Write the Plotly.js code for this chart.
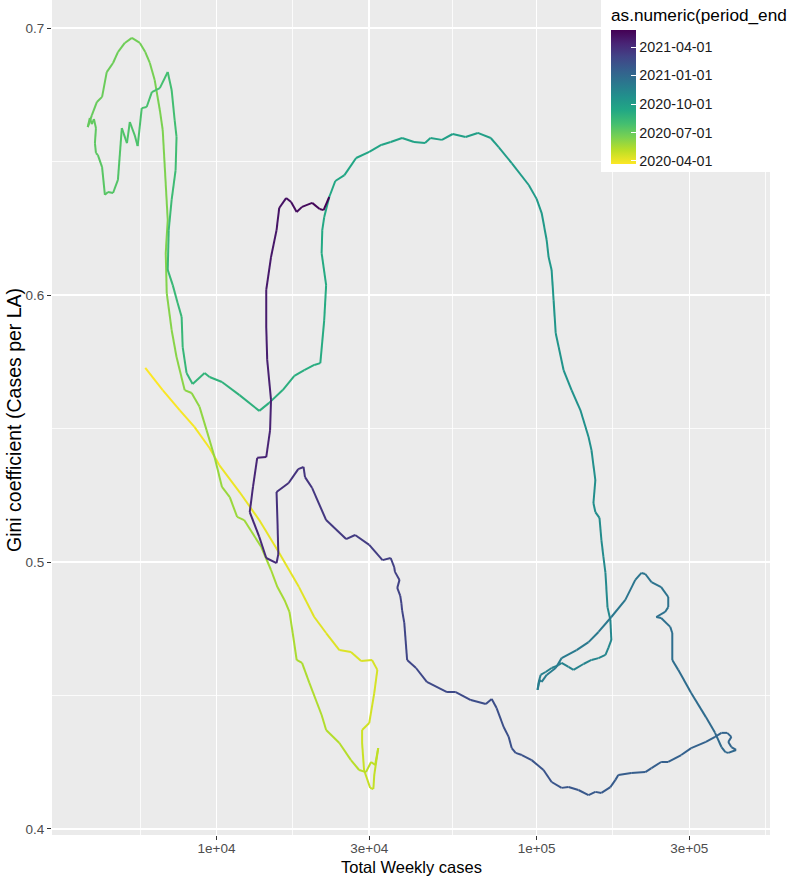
<!DOCTYPE html>
<html><head><meta charset="utf-8">
<script src="https://cdn.plot.ly/plotly-3.0.1.min.js"></script>
<style>html,body{margin:0;padding:0;background:#fff;}#chart{width:788px;height:881px;}</style>
</head><body><div id="chart"></div>
<script>
const periodEnd = ['2020-03-22','2020-03-24','2020-03-26','2020-03-28','2020-03-30','2020-04-01','2020-04-03','2020-04-05','2020-04-07','2020-04-09',
'2020-04-11','2020-04-12','2020-04-13','2020-04-14','2020-04-15','2020-04-16','2020-04-17','2020-04-19','2020-04-21','2020-04-23',
'2020-04-25','2020-04-27','2020-04-29','2020-04-30','2020-05-01','2020-05-02','2020-05-03','2020-05-04','2020-05-05','2020-05-07',
'2020-05-08','2020-05-10','2020-05-11','2020-05-12','2020-05-14','2020-05-15','2020-05-16','2020-05-17','2020-05-18','2020-05-19',
'2020-05-20','2020-05-21','2020-05-23','2020-05-25','2020-05-26','2020-05-27','2020-05-28','2020-05-30','2020-06-01','2020-06-03',
'2020-06-04','2020-06-05','2020-06-07','2020-06-08','2020-06-10','2020-06-12','2020-06-13','2020-06-16','2020-06-17','2020-06-19',
'2020-06-20','2020-06-21','2020-06-22','2020-06-24','2020-06-25','2020-06-26','2020-06-27','2020-06-28','2020-06-30','2020-07-01',
'2020-07-02','2020-07-03','2020-07-04','2020-07-05','2020-07-06','2020-07-07','2020-07-09','2020-07-10','2020-07-11','2020-07-12',
'2020-07-14','2020-07-15','2020-07-16','2020-07-17','2020-07-19','2020-07-20','2020-07-21','2020-07-22','2020-07-23','2020-07-25',
'2020-07-26','2020-07-27','2020-07-28','2020-07-30','2020-07-31','2020-08-02','2020-08-03','2020-08-05','2020-08-07','2020-08-08',
'2020-08-10','2020-08-11','2020-08-12','2020-08-13','2020-08-15','2020-08-17','2020-08-18','2020-08-20','2020-08-21','2020-08-23',
'2020-08-25','2020-08-27','2020-08-28','2020-08-30','2020-08-31','2020-09-01','2020-09-02','2020-09-03','2020-09-05','2020-09-06',
'2020-09-08','2020-09-09','2020-09-10','2020-09-12','2020-09-13','2020-09-14','2020-09-16','2020-09-17','2020-09-18','2020-09-19',
'2020-09-20','2020-09-21','2020-09-22','2020-09-23','2020-09-24','2020-09-25','2020-09-26','2020-09-27','2020-09-29','2020-09-30',
'2020-10-02','2020-10-04','2020-10-06','2020-10-07','2020-10-09','2020-10-10','2020-10-11','2020-10-13','2020-10-15','2020-10-16',
'2020-10-18','2020-10-20','2020-10-22','2020-10-24','2020-10-25','2020-10-27','2020-10-29','2020-10-30','2020-10-31','2020-11-02',
'2020-11-04','2020-11-05','2020-11-07','2020-11-08','2020-11-10','2020-11-11','2020-11-12','2020-11-13','2020-11-14','2020-11-15',
'2020-11-17','2020-11-18','2020-11-19','2020-11-20','2020-11-21','2020-11-22','2020-11-23','2020-11-25','2020-11-26','2020-11-27',
'2020-11-28','2020-11-29','2020-11-30','2020-12-01','2020-12-03','2020-12-04','2020-12-05','2020-12-07','2020-12-08','2020-12-10',
'2020-12-11','2020-12-12','2020-12-13','2020-12-14','2020-12-15','2020-12-16','2020-12-17','2020-12-18','2020-12-19','2020-12-20',
'2020-12-21','2020-12-23','2020-12-24','2020-12-26','2020-12-28','2020-12-30','2020-12-31','2021-01-01','2021-01-02','2021-01-04',
'2021-01-05','2021-01-06','2021-01-07','2021-01-08','2021-01-09','2021-01-10','2021-01-11','2021-01-13','2021-01-14','2021-01-16',
'2021-01-17','2021-01-18','2021-01-19','2021-01-21','2021-01-22','2021-01-23','2021-01-24','2021-01-26','2021-01-27','2021-01-28',
'2021-01-30','2021-01-31','2021-02-01','2021-02-03','2021-02-04','2021-02-06','2021-02-07','2021-02-08','2021-02-09','2021-02-10',
'2021-02-11','2021-02-13','2021-02-14','2021-02-15','2021-02-17','2021-02-19','2021-02-20','2021-02-22','2021-02-24','2021-02-26',
'2021-02-28','2021-03-01','2021-03-02','2021-03-03','2021-03-04','2021-03-05','2021-03-06','2021-03-07','2021-03-08','2021-03-10',
'2021-03-12','2021-03-14','2021-03-15','2021-03-18','2021-03-21','2021-03-22','2021-03-23','2021-03-24','2021-03-26','2021-03-28',
'2021-03-30','2021-04-01','2021-04-02','2021-04-04','2021-04-06','2021-04-08','2021-04-10','2021-04-12','2021-04-13','2021-04-15',
'2021-04-17','2021-04-20','2021-04-23','2021-04-26','2021-04-29','2021-05-02','2021-05-05','2021-05-08','2021-05-10','2021-05-13',
'2021-05-15','2021-05-18','2021-05-21','2021-05-24','2021-05-27'];

const totalWeeklyCases = [5990,6790,7670,8530,9510,10200,11800,13600,15700,18100,
20200,22000,24200,26300,28300,30600,31800,31100,30000,28500,
28500,28900,30200,30900,31100,32000,31300,30400,29300,27900,
26300,24200,22000,21300,19500,18500,17800,17300,16900,16300,
15500,14800,13800,12200,11600,11000,10400,9860,9310,8850,
8360,7950,7500,7240,6990,6940,7040,6790,6650,6410,
6190,5990,5760,5440,5170,4920,4750,4540,4390,4230,
4080,3960,4020,4080,4140,4200,4170,4200,4260,4390,
4480,4580,4750,4920,5060,5250,5360,5550,5670,5840,
6050,6280,6650,7040,7240,7400,7500,7450,7240,7090,
7040,7300,7560,7780,7840,8060,8420,9180,9510,10400,
11800,13600,14600,16100,17500,18800,20200,21100,21700,22000,
21300,21400,21700,22500,23500,25100,27300,30000,32700,35000,
38000,41400,44800,46600,50600,54700,60000,65500,71900,76100,
83600,94500,100000,103700,107500,109000,111400,113000,114700,117200,
121400,128600,137000,145300,148400,152600,150500,152600,157200,159400,
161700,164100,166500,170000,171200,167600,164100,156100,148400,140100,
130400,125800,119700,117200,111400,106700,102900,101400,100700,102200,
103700,107500,114700,119700,133300,145300,156100,171200,189300,203400,
212600,218600,228500,245000,257800,257800,252000,236500,245000,261500,
265400,265400,277000,304000,338000,361000,378000,389000,397000,420000,
406000,397000,406000,394000,378000,361000,338000,304000,283000,257800,
245000,228500,218600,197600,180000,176300,170000,159400,152600,145300,
135100,125800,119700,111400,105100,96500,89900,86000,83600,81800,
78900,75000,72400,69400,62300,55900,52500,45400,42000,39400,
38600,38000,37800,37500,36700,37300,36100,35900,35000,33000,
30000,27100,25400,22000,19900,18900,18700,18000,16800,15400,
15500,15600,15400,14300,13600,12700,13000,13400,14300,14700,
14800,14400,14300,14300,14800,15400,15700,16500,17100,17800,
18500,19900,21000,21600,22500];

const giniCoefficient = [0.5727,0.5644,0.5569,0.5506,0.5427,0.5363,0.5262,0.5157,0.5034,0.4906,
0.4794,0.4734,0.4670,0.4663,0.4629,0.4633,0.4596,0.4509,0.4397,0.4371,
0.4322,0.4221,0.4154,0.4150,0.4202,0.4303,0.4240,0.4251,0.4213,0.4221,
0.4258,0.4322,0.4371,0.4427,0.4547,0.4622,0.4633,0.4734,0.4813,0.4858,
0.4906,0.4970,0.5056,0.5157,0.5169,0.5243,0.5281,0.5393,0.5494,0.5581,
0.5633,0.5644,0.5768,0.5869,0.6007,0.6157,0.6281,0.6618,0.6693,0.6805,
0.6869,0.6910,0.6944,0.6963,0.6944,0.6910,0.6869,0.6835,0.6742,0.6723,
0.6674,0.6629,0.6663,0.6640,0.6659,0.6625,0.6569,0.6532,0.6524,0.6479,
0.6375,0.6386,0.6382,0.6431,0.6625,0.6569,0.6648,0.6599,0.6558,0.6700,
0.6704,0.6760,0.6775,0.6835,0.6768,0.6655,0.6592,0.6468,0.6356,0.6243,
0.6094,0.6037,0.5970,0.5918,0.5805,0.5708,0.5667,0.5708,0.5693,0.5674,
0.5625,0.5566,0.5596,0.5644,0.5697,0.5719,0.5738,0.5745,0.5906,0.6037,
0.6157,0.6243,0.6292,0.6367,0.6427,0.6449,0.6513,0.6536,0.6562,0.6573,
0.6588,0.6573,0.6569,0.6588,0.6581,0.6603,0.6592,0.6607,0.6588,0.6554,
0.6494,0.6412,0.6360,0.6307,0.6206,0.6142,0.6094,0.5981,0.5858,0.5805,
0.5719,0.5644,0.5569,0.5468,0.5419,0.5307,0.5221,0.5187,0.5165,0.5082,
0.5019,0.4959,0.4831,0.4783,0.4708,0.4678,0.4652,0.4640,0.4633,0.4618,
0.4596,0.4607,0.4622,0.4614,0.4603,0.4588,0.4577,0.4547,0.4521,0.4558,
0.4551,0.4577,0.4603,0.4640,0.4670,0.4700,0.4738,0.4794,0.4858,0.4933,
0.4959,0.4955,0.4925,0.4906,0.4869,0.4831,0.4813,0.4794,0.4790,0.4757,
0.4734,0.4633,0.4596,0.4509,0.4419,0.4360,0.4307,0.4288,0.4285,0.4296,
0.4307,0.4326,0.4345,0.4360,0.4360,0.4345,0.4326,0.4303,0.4277,0.4251,
0.4251,0.4228,0.4213,0.4210,0.4202,0.4184,0.4157,0.4135,0.4139,0.4127,
0.4146,0.4157,0.4154,0.4176,0.4221,0.4258,0.4277,0.4285,0.4303,0.4345,
0.4382,0.4453,0.4487,0.4468,0.4483,0.4513,0.4513,0.4551,0.4603,0.4633,
0.4772,0.4820,0.4846,0.4873,0.4903,0.4933,0.4963,0.4981,0.5015,0.5007,
0.5064,0.5101,0.5086,0.5157,0.5277,0.5318,0.5356,0.5348,0.5296,0.5262,
0.5157,0.5030,0.4996,0.5015,0.5094,0.5187,0.5281,0.5390,0.5393,0.5494,
0.5607,0.5757,0.5880,0.6019,0.6142,0.6243,0.6326,0.6363,0.6348,0.6311,
0.6330,0.6345,0.6322,0.6318,0.6367];

const xTickVals = [1e4, 3e4, 1e5, 3e5];
const xTickText = ['1e+04', '3e+04', '1e+05', '3e+05'];
const xMinorVals = [5774, 17321, 54772, 173205, 519600];
const yTickVals = [0.4, 0.5, 0.6, 0.7];
const yTickText = ['0.4', '0.5', '0.6', '0.7'];
const yMinorVals = [0.45, 0.55, 0.65];
const legendDates = ['2020-04-01', '2020-07-01', '2020-10-01', '2021-01-01', '2021-04-01'];
const legendTitle = 'as.numeric(period_end';
const xTitle = 'Total Weekly cases';
const yTitle = 'Gini coefficient (Cases per LA)';

// viridis palette (high value = dark purple, low value = yellow)
const VIR = ['#440154','#482475','#414487','#355f8d','#2a788e','#21918c','#22a884','#44bf70','#7ad151','#bddf26','#fde725'];
function hex2rgb(h){return [parseInt(h.slice(1,3),16),parseInt(h.slice(3,5),16),parseInt(h.slice(5,7),16)];}
function viridis(p){
  p = Math.max(0, Math.min(1, p));
  const s = p * 10, i = Math.min(9, Math.floor(s)), f = s - i;
  const a = hex2rgb(VIR[i]), b = hex2rgb(VIR[i+1]);
  const c = a.map((v, k) => Math.round(v + (b[k] - v) * f));
  return 'rgb(' + c.join(',') + ')';
}
const toDays = s => Date.parse(s) / 86400000;
const tNum = periodEnd.map(toDays);
const tMin = tNum[0], tMax = tNum[tNum.length - 1];
const colorOf = t => viridis(1 - (t - tMin) / (tMax - tMin));

const FONT = 'Liberation Sans, Arial, Helvetica, sans-serif';
const traces = [];
for (let i = 0; i < totalWeeklyCases.length - 1; i++) {
  traces.push({
    type: 'scatter', mode: 'lines',
    x: [totalWeeklyCases[i], totalWeeklyCases[i+1]],
    y: [giniCoefficient[i], giniCoefficient[i+1]],
    line: {color: colorOf((tNum[i] + tNum[i+1]) / 2), width: 2},
    hoverinfo: 'skip', showlegend: false
  });
}
const scaleRev = VIR.slice().reverse().map((c, i) => [i / 10, c]);
// hidden markers carrying the colour scale for the colour bar
traces.push({
  type: 'scatter', mode: 'markers',
  x: totalWeeklyCases, y: giniCoefficient,
  marker: {
    size: 1, opacity: 0, color: tNum, cmin: tMin, cmax: tMax, colorscale: scaleRev,
    showscale: true,
    colorbar: {
      x: (611 - 52) / 718, xanchor: 'left', xpad: 0,
      y: 1 - 30 / 835, yanchor: 'top', ypad: 0,
      len: 134, lenmode: 'pixels', thickness: 25, thicknessmode: 'pixels',
      outlinewidth: 0, tickmode: 'array',
      tickvals: legendDates.map(toDays), ticktext: legendDates,
      ticks: 'inside', ticklen: 5, tickcolor: '#ffffff', tickwidth: 1,
      tickfont: {family: FONT, size: 14.3, color: '#1a1a1a'}
    }
  },
  hoverinfo: 'skip', showlegend: false
});

const layout = {
  width: 788, height: 881,
  margin: {l: 52, r: 18, t: 0, b: 46},
  paper_bgcolor: '#ffffff', plot_bgcolor: '#ebebeb',
  font: {family: FONT},
  showlegend: false,
  xaxis: {
    type: 'log', range: [Math.log10(3062), Math.log10(536000)],
    tickmode: 'array', tickvals: xTickVals, ticktext: xTickText,
    ticks: 'outside', ticklen: 4, tickcolor: '#333333', tickwidth: 1,
    ticklabelstandoff: -3,
    tickfont: {size: 13.5, color: '#4d4d4d'},
    showgrid: true, gridcolor: '#ffffff', gridwidth: 1.6,
    minor: {tickmode: 'array', tickvals: xMinorVals, showgrid: true, gridcolor: '#ffffff', gridwidth: 0.8, ticks: ''},
    zeroline: false, showline: false, fixedrange: true
  },
  yaxis: {
    range: [0.39775, 0.71049],
    tickmode: 'array', tickvals: yTickVals, ticktext: yTickText,
    ticks: 'outside', ticklen: 4, tickcolor: '#333333', tickwidth: 1,
    tickfont: {size: 13.5, color: '#4d4d4d'},
    showgrid: true, gridcolor: '#ffffff', gridwidth: 1.6,
    minor: {tickmode: 'array', tickvals: yMinorVals, showgrid: true, gridcolor: '#ffffff', gridwidth: 0.8, ticks: ''},
    zeroline: false, showline: false, fixedrange: true
  },
  shapes: [{
    type: 'rect', xref: 'paper', yref: 'paper', layer: 'above',
    x0: (601 - 52) / 718, x1: 1.04, y0: 1 - 172 / 835, y1: 1.01,
    fillcolor: '#ffffff', line: {width: 0}
  }],
  annotations: [
    {text: legendTitle, xref: 'paper', yref: 'paper', x: (609 - 52) / 718, y: 1 - 3 / 835,
     xanchor: 'left', yanchor: 'top', showarrow: false, font: {size: 17.2, color: '#000000'}},
    {text: xTitle, xref: 'paper', yref: 'paper', x: 0.5, y: 1 - 867 / 835,
     xanchor: 'center', yanchor: 'middle', showarrow: false, font: {size: 16.5, color: '#000000'}},
    {text: yTitle, xref: 'paper', yref: 'paper', x: (14 - 52) / 718, y: 1 - 420 / 835, textangle: -90,
     xanchor: 'center', yanchor: 'middle', showarrow: false, font: {size: 19.5, color: '#000000'}}
  ]
};
Plotly.newPlot('chart', traces, layout, {staticPlot: true, displayModeBar: false});
</script>
</body></html>
